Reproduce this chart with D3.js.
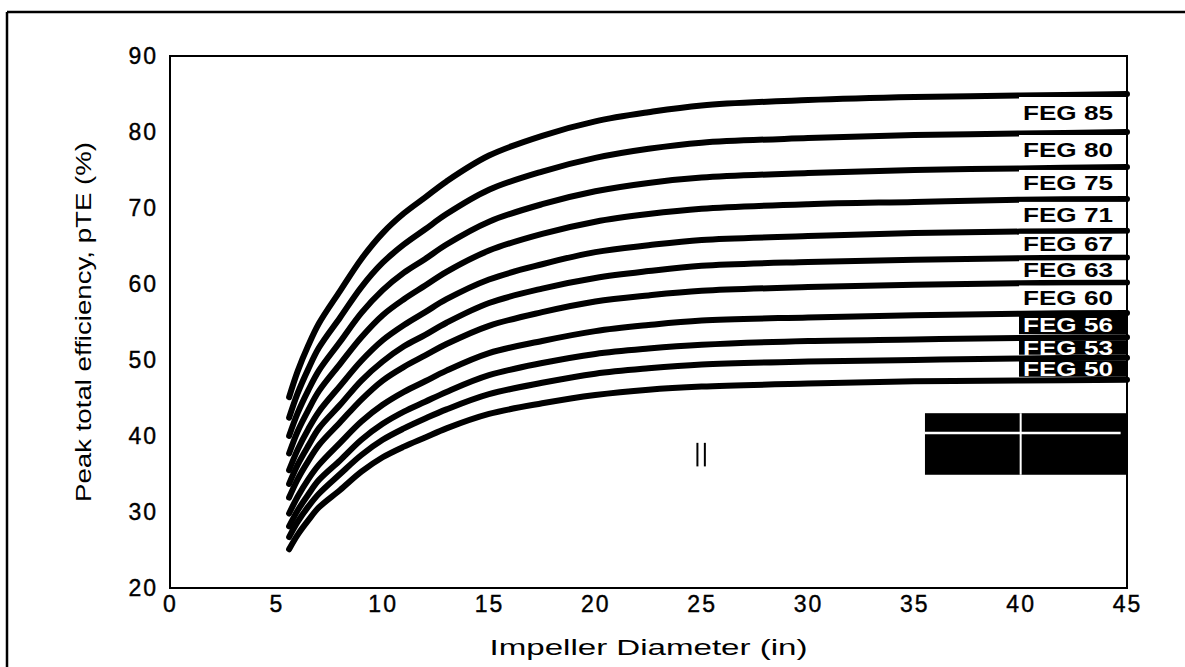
<!DOCTYPE html>
<html>
<head>
<meta charset="utf-8">
<script src="https://cdn.jsdelivr.net/npm/d3@7"></script>
<style>
  body { margin: 0; background: #fff; }
  text { font-family: "Liberation Sans", Arial, Helvetica, sans-serif; fill: #000; }
</style>
</head>
<body>
<div id="chart"></div>
<script>
const width = 1185;
const height = 667;

// impeller diameters (in) where the curves were read
const diameters = [5.6, 6, 6.5, 7, 8, 9, 10, 11, 12, 13, 15, 17.5, 20, 22.5, 25, 30, 35, 40, 45];

// band boundaries, top to bottom (pTE %)
const curve85 = [45.1, 48.5, 51.9, 54.8, 59.1, 63.3, 66.7, 69.3, 71.4, 73.5, 76.9, 79.5, 81.4, 82.6, 83.5, 84.2, 84.6, 84.8, 85];
const curve80 = [42.4, 45.6, 48.8, 51.6, 55.6, 59.6, 62.8, 65.2, 67.2, 69.2, 72.4, 74.8, 76.6, 77.8, 78.6, 79.2, 79.6, 79.8, 80];
const curve75 = [40.0, 43.0, 46.0, 48.6, 52.4, 56.2, 59.2, 61.5, 63.3, 65.2, 68.2, 70.5, 72.2, 73.3, 74.0, 74.6, 75.0, 75.2, 75.4];
const curve71 = [37.7, 40.6, 43.4, 45.9, 49.5, 53.0, 55.9, 58.0, 59.8, 61.6, 64.4, 66.6, 68.2, 69.2, 69.9, 70.5, 70.8, 71.1, 71.2];
const curve67 = [35.5, 38.2, 40.9, 43.2, 46.6, 49.9, 52.6, 54.6, 56.3, 58.0, 60.6, 62.6, 64.2, 65.1, 65.8, 66.3, 66.7, 66.9, 67];
const curve63 = [33.7, 36.2, 38.7, 41.0, 44.1, 47.3, 49.8, 51.8, 53.3, 54.9, 57.5, 59.4, 60.8, 61.7, 62.4, 62.9, 63.2, 63.4, 63.5];
const curve60 = [31.9, 34.3, 36.7, 38.8, 41.8, 44.8, 47.3, 49.1, 50.6, 52.1, 54.5, 56.3, 57.7, 58.5, 59.1, 59.6, 59.9, 60.1, 60.2];
const curve56 = [29.8, 32.0, 34.3, 36.2, 39.1, 41.9, 44.1, 45.8, 47.2, 48.6, 50.9, 52.5, 53.8, 54.6, 55.2, 55.6, 55.9, 56.1, 56.2];
const curve53 = [28.1, 30.2, 32.3, 34.2, 36.8, 39.5, 41.6, 43.2, 44.5, 45.8, 48.0, 49.6, 50.8, 51.5, 52.0, 52.5, 52.7, 52.9, 53];
const curve50 = [26.7, 28.7, 30.7, 32.4, 35.0, 37.5, 39.5, 41.0, 42.3, 43.5, 45.5, 47.0, 48.2, 48.9, 49.4, 49.8, 50.0, 50.2, 50.3];
const curveLow = [25.1, 27.0, 28.9, 30.6, 32.9, 35.3, 37.2, 38.6, 39.8, 41.0, 42.9, 44.3, 45.4, 46.1, 46.5, 46.9, 47.2, 47.3, 47.4];

const curves = [curve85, curve80, curve75, curve71, curve67, curve63, curve60, curve56, curve53, curve50, curveLow];

// labels sit in the band under each boundary
const gradeLabels = ["FEG 85", "FEG 80", "FEG 75", "FEG 71", "FEG 67", "FEG 63", "FEG 60", "FEG 56", "FEG 53", "FEG 50"];
const darkLabels = ["FEG 56", "FEG 53", "FEG 50"];

const xTicks = [0, 5, 10, 15, 20, 25, 30, 35, 40, 45];
const yTicks = [20, 30, 40, 50, 60, 70, 80, 90];

const svg = d3.select("#chart")
    .append("svg")
    .attr("width", width)
    .attr("height", height);

const x = d3.scaleLinear().domain([0, 45]).range([170, 1127]);
const y = d3.scaleLinear().domain([20, 90]).range([588, 56]);

// outer frame (only top and left show)
svg.append("line").attr("x1", 7).attr("y1", 12).attr("x2", width).attr("y2", 12)
    .attr("stroke", "#000").attr("stroke-width", 2.5);
svg.append("line").attr("x1", 7).attr("y1", 12).attr("x2", 7).attr("y2", height)
    .attr("stroke", "#000").attr("stroke-width", 2.5);

// curves
const line = d3.line()
    .x((d, i) => x(diameters[i]))
    .y(d => y(d))
    .curve(d3.curveCatmullRom.alpha(0.5));

svg.append("g")
    .selectAll("path")
    .data(curves)
    .join("path")
    .attr("d", line)
    .attr("fill", "none")
    .attr("stroke", "#000")
    .attr("stroke-width", 6)
    .attr("stroke-linecap", "round");

// grade labels
const lastIdx = diameters.length - 1;
const labelG = svg.append("g");
gradeLabels.forEach((lab, i) => {
    const yTop = y(curves[i][lastIdx]);
    const yBot = y(curves[i + 1][lastIdx]);
    const cy = (yTop + yBot) / 2;
    const dark = darkLabels.includes(lab);
    labelG.append("rect")
        .attr("x", 1019)
        .attr("y", yTop + 3)
        .attr("width", x(45) - 1019)
        .attr("height", yBot - yTop - 6)
        .attr("fill", dark ? "#000" : "#fff");
    labelG.append("text")
        .attr("x", 1113)
        .attr("y", cy)
        .attr("dy", "0.36em")
        .attr("text-anchor", "end")
        .attr("font-weight", "bold")
        .attr("font-size", 20)
        .attr("textLength", 90)
        .attr("lengthAdjust", "spacingAndGlyphs")
        .style("fill", dark ? "#fff" : "#000")
        .text(lab);
});

// black blocks at lower right
svg.append("rect")
    .attr("x", x(35.5)).attr("y", y(43.0))
    .attr("width", x(45) - x(35.5)).attr("height", y(34.9) - y(43.0))
    .attr("fill", "#000");
svg.append("line")
    .attr("x1", x(35.5)).attr("x2", x(44.7))
    .attr("y1", y(40.4)).attr("y2", y(40.4))
    .attr("stroke", "#fff").attr("stroke-width", 2.5);
svg.append("line")
    .attr("x1", x(40)).attr("x2", x(40))
    .attr("y1", y(43.0)).attr("y2", y(34.9))
    .attr("stroke", "#fff").attr("stroke-width", 2);

// small double bar mark
[24.8, 25.15].forEach(v => {
    svg.append("line")
        .attr("x1", x(v)).attr("x2", x(v))
        .attr("y1", y(39.1)).attr("y2", y(36.0))
        .attr("stroke", "#000").attr("stroke-width", 2);
});

// plot frame
svg.append("rect")
    .attr("x", x(0)).attr("y", y(90))
    .attr("width", x(45) - x(0)).attr("height", y(20) - y(90))
    .attr("fill", "none")
    .attr("stroke", "#000")
    .attr("stroke-width", 2);

// axes (labels only)
const xAxis = svg.append("g")
    .attr("transform", `translate(0,${y(20)})`)
    .call(d3.axisBottom(x).tickValues(xTicks).tickSize(0).tickPadding(8));
xAxis.select(".domain").remove();
xAxis.selectAll("text")
    .attr("font-size", 23)
    .attr("letter-spacing", 2)
    .style("font-family", "'Liberation Sans', Arial, sans-serif")
    .style("stroke", "#000").style("stroke-width", 0.4);

const yAxis = svg.append("g")
    .attr("transform", `translate(${x(0)},0)`)
    .call(d3.axisLeft(y).tickValues(yTicks).tickSize(0).tickPadding(12));
yAxis.select(".domain").remove();
yAxis.selectAll("text")
    .attr("font-size", 23)
    .attr("letter-spacing", 2)
    .style("font-family", "'Liberation Sans', Arial, sans-serif")
    .style("stroke", "#000").style("stroke-width", 0.4);

// axis titles
svg.append("text")
    .attr("x", (x(0) + x(45)) / 2)
    .attr("y", 655)
    .attr("text-anchor", "middle")
    .attr("font-size", 22)
    .attr("textLength", 318)
    .attr("lengthAdjust", "spacingAndGlyphs")
    .text("Impeller Diameter (in)");

svg.append("text")
    .attr("transform", `translate(91,${(y(20) + y(90)) / 2}) rotate(-90)`)
    .attr("text-anchor", "middle")
    .attr("font-size", 22)
    .attr("textLength", 360)
    .attr("lengthAdjust", "spacingAndGlyphs")
    .text("Peak total efficiency, pTE (%)");
</script>
</body>
</html>
